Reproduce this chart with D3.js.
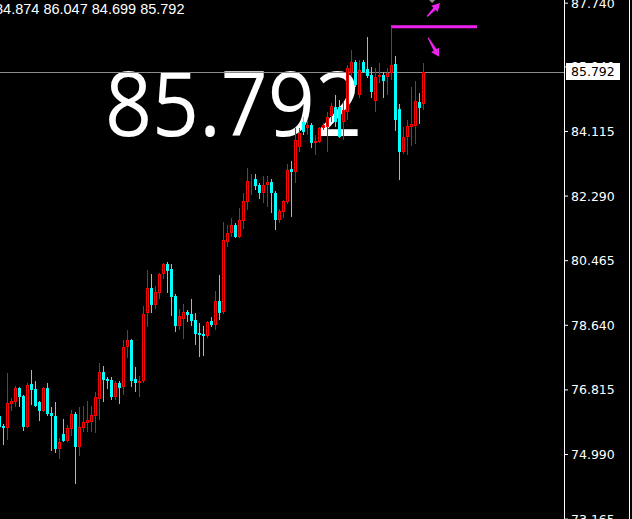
<!DOCTYPE html>
<html><head><meta charset="utf-8">
<script src="https://cdn.jsdelivr.net/npm/d3@7"></script>
<style>html,body{margin:0;padding:0;background:#000;overflow:hidden}</style>
</head><body>
<svg id="c" width="632" height="519"></svg>
<script>
const opens = [76.06,75.78,75.72,76.40,76.46,76.85,76.63,75.75,76.97,76.83,
76.46,76.20,76.85,76.15,76.06,75.13,75.55,75.36,75.70,76.12,
75.19,75.72,75.87,75.89,76.06,76.54,77.31,77.11,77.08,76.60,
77.00,76.88,78.01,78.21,77.11,77.00,77.05,78.97,79.68,79.20,
79.54,80.08,80.36,80.22,79.45,78.61,78.80,79.00,78.95,78.78,
78.41,78.38,78.32,78.75,78.63,79.31,79.00,80.98,81.23,81.46,
81.12,81.57,82.11,82.67,82.76,82.59,82.36,82.59,82.67,82.36,
81.60,81.83,82.11,83.04,82.96,83.66,84.37,84.20,84.28,83.78,
83.80,84.20,84.23,84.54,84.79,84.79,84.37,84.65,85.75,86.06,
85.13,86.06,85.87,85.70,84.96,85.64,85.70,85.64,85.75,86.01,
84.74,83.52,83.95,84.23,84.26,84.93,84.874];
const highs = [76.18,75.84,77.28,76.57,76.91,76.88,76.65,77.00,77.36,77.05,
76.49,76.88,77.00,76.32,76.46,75.44,75.98,75.81,76.23,76.18,
76.32,76.35,76.49,76.35,76.74,77.56,77.48,77.17,77.17,77.05,
77.05,78.21,78.49,78.24,77.45,77.19,79.17,80.19,80.08,79.74,
80.10,80.39,80.41,80.36,79.51,79.09,79.23,79.06,79.37,78.97,
78.69,78.61,78.75,78.86,79.59,80.05,81.54,81.46,81.66,81.52,
81.94,82.36,83.07,82.90,82.90,82.65,82.84,82.84,82.76,82.42,
81.91,82.17,83.18,83.27,84.20,84.20,84.51,84.43,84.34,84.00,
84.23,84.34,84.65,84.91,85.13,84.99,84.93,85.98,86.40,86.12,
86.12,86.12,86.77,85.92,85.89,86.04,85.78,85.89,87.06,86.23,
84.88,84.23,84.43,85.36,85.53,85.19,86.047];
const lows = [75.67,75.24,75.39,76.20,76.32,76.32,75.64,75.72,76.37,76.32,
75.92,76.18,76.06,75.07,75.02,74.85,75.33,75.33,75.50,74.14,
74.93,75.61,75.61,75.61,75.58,75.95,76.46,76.83,76.52,76.52,
76.40,76.66,77.70,76.88,76.74,76.60,77.00,78.58,78.97,79.09,
79.37,79.93,79.54,78.89,78.44,78.49,78.24,78.72,78.61,78.07,
77.73,77.76,78.27,78.58,78.49,78.78,78.95,80.84,81.12,81.09,
81.09,81.35,81.88,82.31,82.45,82.19,82.08,81.97,81.80,81.32,
81.52,81.66,82.05,81.69,82.65,83.52,84.00,84.00,83.63,83.44,
83.78,84.14,83.52,84.37,84.23,83.92,83.86,84.43,85.64,85.36,
85.05,85.75,85.61,85.05,84.65,85.47,85.05,85.13,85.56,84.12,
82.73,83.47,83.44,83.69,83.75,84.31,84.699];
const closes = [75.75,75.72,76.43,76.49,76.85,76.60,75.75,76.94,76.80,76.35,
76.20,76.85,76.12,76.06,75.13,75.33,75.36,75.72,76.12,75.19,
75.75,75.89,75.95,76.09,76.60,77.31,77.08,77.05,76.60,77.00,
76.85,78.01,78.21,77.05,77.00,77.05,78.95,79.68,79.20,79.57,
80.08,80.36,80.16,79.43,78.61,78.89,79.00,78.92,78.75,78.38,
78.35,78.32,78.72,78.63,79.31,78.97,81.04,81.23,81.46,81.12,
81.60,82.14,82.70,82.70,82.56,82.36,82.59,82.67,82.36,81.60,
81.85,82.14,83.01,82.96,83.87,84.06,84.09,84.28,83.78,83.83,
84.20,84.28,84.51,84.82,84.37,83.95,84.71,85.89,86.06,85.41,
85.84,85.78,85.67,85.22,85.64,85.70,85.53,85.75,85.98,84.43,
83.52,83.95,84.26,84.31,84.96,84.76,85.792];
const tickValues = [87.740, 85.940, 84.115, 82.290, 80.465, 78.640, 76.815, 74.990, 73.165];
const tickLabels = ["87.740","85.940","84.115","82.290","80.465","78.640","76.815","74.990","73.165"];
const lastPrice = 85.792;
const bigLabel = "85.792";
const arrowIndex = 108.4;
const upArrowPrices = [87.35, 87.73];
const downArrowPrices = [86.75, 86.21];

const W = 632, H = 519, axisX = 564;
const n = opens.length;
const svg = d3.select("#c");
svg.append("rect").attr("width", W).attr("height", H).attr("fill", "#000");

const y = d3.scaleLinear().domain([73.154, 87.815]).range([H, 0]);
const x = d3.scaleBand().domain(d3.range(n)).range([-2, -2 + 4 * n - 1]).paddingInner(0.25).paddingOuter(0);
const xi = d3.scaleLinear().domain([0, 1]).range([x(0) + x.bandwidth() / 2, x(1) + x.bandwidth() / 2]);

// big background label
svg.append("text").attr("x", 105).attr("y", 136)
  .attr("font-family", "Open Sans").attr("font-size", 89).attr("fill", "#fff")
  .attr("textLength", 257).attr("lengthAdjust", "spacingAndGlyphs")
  .text(bigLabel);

// current price line
const ly = Math.round(y(lastPrice)) + 0.5;
svg.append("line").attr("x1", 0).attr("x2", axisX).attr("y1", ly).attr("y2", ly)
  .attr("stroke", "#8c8c8c").attr("stroke-width", 1);

// high marker line
const hiIdx = d3.maxIndex(highs);
const hy = y(highs[hiIdx]);
svg.append("line").attr("x1", xi(hiIdx) - 0.5).attr("x2", 477).attr("y1", hy).attr("y2", hy)
  .attr("stroke", "#ee22ee").attr("stroke-width", 3);

// candles
const data = d3.range(n).map(i => ({i, o: opens[i], h: highs[i], l: lows[i], c: closes[i]}));
const g = svg.append("g");
data.forEach(d => {
  const up = d.c >= d.o;
  const col = up ? "#ff0000" : "#00ffff";
  const bx = x(d.i);
  const cx = bx + x.bandwidth() / 2;
  const yh = Math.round(y(d.h)), yl = Math.round(y(d.l));
  g.append("line").attr("x1", cx).attr("x2", cx).attr("y1", yh).attr("y2", yl)
    .attr("stroke", col).attr("stroke-width", 1);
  const yo = Math.round(y(d.o)), yc = Math.round(y(d.c));
  if (up) {
    const top = yc, bot = yo;
    g.append("rect").attr("x", bx + 0.5).attr("y", top + 0.5)
      .attr("width", x.bandwidth() - 1).attr("height", Math.max(0, bot - top - 1))
      .attr("fill", "#000").attr("stroke", col).attr("stroke-width", 1);
  } else {
    const top = yo, bot = yc;
    g.append("rect").attr("x", bx).attr("y", top)
      .attr("width", x.bandwidth()).attr("height", Math.max(1, bot - top))
      .attr("fill", col);
  }
});

// arrows
function arrowPath(x0, y0, x1, y1) {
  const dx = x1 - x0, dy = y1 - y0, L = Math.hypot(dx, dy);
  const ux = dx / L, uy = dy / L, px = -uy, py = ux;
  const hl = 8, hw = 4.5, sw = 1.6;
  const bx = x1 - ux * hl, by = y1 - uy * hl;
  const pts = [
    [x0 + px * 0.6, y0 + py * 0.6], [bx + px * sw, by + py * sw], [bx + px * hw, by + py * hw],
    [x1, y1], [bx - px * hw, by - py * hw], [bx - px * sw, by - py * sw], [x0 - px * 0.6, y0 - py * 0.6]
  ];
  return "M" + pts.map(p => p.join(",")).join("L") + "Z";
}
svg.append("path").attr("d", arrowPath(xi(arrowIndex) - 6, y(upArrowPrices[0]), xi(arrowIndex) + 7, y(upArrowPrices[1])))
  .attr("fill", "#ee22ee");
svg.append("path").attr("d", arrowPath(xi(arrowIndex) - 5, y(downArrowPrices[0]), xi(arrowIndex) + 6, y(downArrowPrices[1])))
  .attr("fill", "#ee22ee");
svg.append("path").attr("d", `M${xi(arrowIndex) - 4},0L${xi(arrowIndex) + 2},0L${xi(arrowIndex) - 1},3Z`).attr("fill", "#8a8a8a");

// axis
svg.append("line").attr("x1", axisX + 0.5).attr("x2", axisX + 0.5).attr("y1", 0).attr("y2", H)
  .attr("stroke", "#fff");
svg.append("line").attr("x1", W - 2.5).attr("x2", W - 2.5).attr("y1", 0).attr("y2", H)
  .attr("stroke", "#fff");
const axis = d3.axisRight(y).tickValues(tickValues).tickFormat((v, i) => tickLabels[i]).tickSize(3).tickPadding(3);
const ag = svg.append("g").attr("transform", `translate(${axisX + 1},0)`).call(axis);
ag.select(".domain").remove();
ag.selectAll(".tick line").attr("stroke", "#fff");
ag.selectAll(".tick text").attr("fill", "#fff").attr("font-family", "DejaVu Sans").attr("font-size", 12.5)
  .attr("dy", "0.36em");

// current price box
const by0 = y(lastPrice);
svg.append("rect").attr("x", axisX + 2).attr("y", Math.round(by0 - 8.5)).attr("width", 54).attr("height", 17).attr("fill", "#fff");
svg.append("text").attr("x", axisX + 7).attr("y", by0).attr("dy", "0.36em")
  .attr("font-family", "DejaVu Sans").attr("font-size", 12.5).attr("fill", "#000").text(lastPrice.toFixed(3));

// OHLC text
const last = n - 1;
svg.append("text").attr("x", -5).attr("y", 14).attr("font-family", "Liberation Sans").attr("font-size", 14.5)
  .attr("fill", "#fff")
  .text([opens[last], highs[last], lows[last], closes[last]].map(v => v.toFixed(3)).join(" "));
</script>
</body></html>
